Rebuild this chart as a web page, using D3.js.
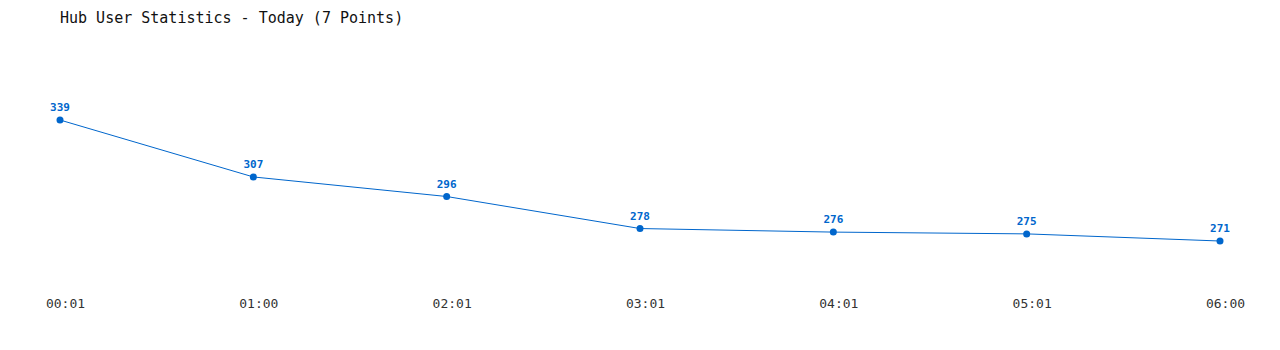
<!DOCTYPE html>
<html>
<head>
<meta charset="utf-8">
<script src="https://cdn.jsdelivr.net/npm/d3@7"></script>
<style>
  body { margin: 0; background: #fff; }
  text { font-family: "DejaVu Sans Mono", "Liberation Mono", monospace; }
</style>
</head>
<body>
<svg id="chart" width="1280" height="350"></svg>
<script>
// data
var times = ["00:01", "01:00", "02:01", "03:01", "04:01", "05:01", "06:00"];
var users = [339, 307, 296, 278, 276, 275, 271];
var titleText = "Hub User Statistics - Today (7 Points)";

var svg = d3.select("#chart");
var lineColor = "#0066cc";

var x = d3.scalePoint()
    .domain(times)
    .range([60, 1220]);

var y = d3.scaleLinear()
    .domain([d3.min(users), d3.max(users)])
    .range([241, 120]);

svg.append("text")
    .attr("x", 60)
    .attr("y", 23)
    .attr("font-size", 15)
    .attr("fill", "#111")
    .text(titleText);

var pts = times.map(function(t, i) { return {t: t, v: users[i]}; });

var line = d3.line()
    .x(function(d) { return x(d.t); })
    .y(function(d) { return y(d.v); });

svg.append("path")
    .datum(pts)
    .attr("d", line)
    .attr("fill", "none")
    .attr("stroke", lineColor)
    .attr("stroke-width", 1);

svg.selectAll("circle.pt")
    .data(pts)
    .enter().append("circle")
    .attr("class", "pt")
    .attr("cx", function(d) { return x(d.t); })
    .attr("cy", function(d) { return y(d.v); })
    .attr("r", 3.5)
    .attr("fill", lineColor);

svg.selectAll("text.val")
    .data(pts)
    .enter().append("text")
    .attr("class", "val")
    .attr("x", function(d) { return x(d.t); })
    .attr("y", function(d) { return y(d.v) - 9; })
    .attr("text-anchor", "middle")
    .attr("font-size", 11)
    .attr("font-weight", "bold")
    .attr("fill", lineColor)
    .text(function(d) { return d.v; });

// x axis labels only, no line or ticks; labels sit a bit right of the points
var xAxis = d3.axisBottom(x).tickSize(0).tickPadding(0);
var gx = svg.append("g")
    .attr("transform", "translate(5,299)")
    .call(xAxis);
gx.select(".domain").remove();
gx.selectAll("text")
    .attr("font-size", 13)
    .attr("fill", "#333")
    .style("font-family", "\"DejaVu Sans Mono\", monospace");
</script>
</body>
</html>
